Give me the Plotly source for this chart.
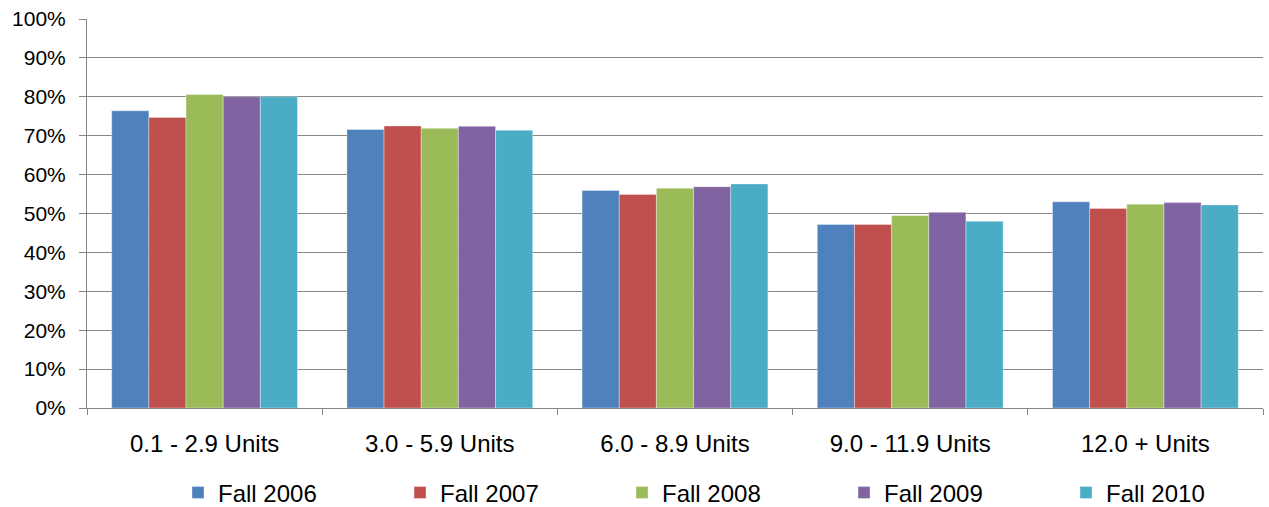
import plotly.graph_objects as go

categories = ["0.1 - 2.9 Units", "3.0 - 5.9 Units", "6.0 - 8.9 Units", "9.0 - 11.9 Units", "12.0 + Units"]
fall_2006 = [76.4, 71.6, 55.9, 47.2, 53.0]
fall_2007 = [74.7, 72.5, 54.9, 47.2, 51.3]
fall_2008 = [80.6, 71.9, 56.5, 49.5, 52.4]
fall_2009 = [80.0, 72.4, 56.9, 50.3, 52.8]
fall_2010 = [80.0, 71.4, 57.6, 48.0, 52.2]
y_ticks = [0, 10, 20, 30, 40, 50, 60, 70, 80, 90, 100]

series = [
    ("Fall 2006", fall_2006, "#4F81BD"),
    ("Fall 2007", fall_2007, "#C0504D"),
    ("Fall 2008", fall_2008, "#9BBB59"),
    ("Fall 2009", fall_2009, "#8064A2"),
    ("Fall 2010", fall_2010, "#4BACC6"),
]

fig = go.Figure()
for name, vals, color in series:
    fig.add_trace(go.Bar(
        x=categories, y=vals, name=name,
        marker=dict(color=color, line=dict(color="rgba(255,255,255,0.35)", width=1)),
    ))

font_family = "Liberation Sans, Arial, sans-serif"
fig.update_layout(
    width=1269, height=507,
    barmode="group", bargap=0.21, bargroupgap=0,
    plot_bgcolor="white", paper_bgcolor="white",
    margin=dict(l=87, r=6, t=19, b=99, autoexpand=False),
    font=dict(family=font_family, color="black"),
    showlegend=True,
    legend=dict(
        orientation="h", x=0.0774, xanchor="left", y=-0.218, yanchor="middle",
        font=dict(size=24, family=font_family), entrywidth=177, itemwidth=30,
        traceorder="normal",
    ),
    xaxis=dict(
        showline=True, linecolor="#868686", linewidth=1,
        ticks="outside", tickson="boundaries", ticklen=6, tickcolor="#868686",
        tickfont=dict(size=24), showgrid=False, automargin=False,
        ticklabelstandoff=14,
    ),
    yaxis=dict(
        range=[0, 100], tickmode="array", tickvals=y_ticks,
        ticktext=[f"{t}%" for t in y_ticks],
        showline=True, linecolor="#868686", linewidth=1,
        ticks="outside", ticklen=7, tickcolor="#868686",
        showgrid=True, gridcolor="#868686", gridwidth=1,
        tickfont=dict(size=21), zeroline=False, automargin=False,
        ticklabelstandoff=9,
    ),
)

fig.write_html("out.html", config={"displayModeBar": False},
               post_script="document.body.style.margin='0';")
